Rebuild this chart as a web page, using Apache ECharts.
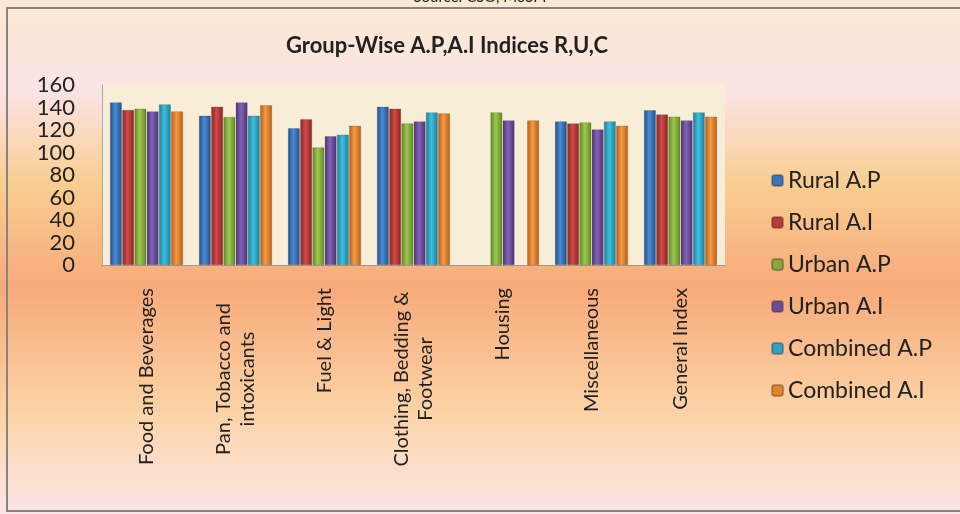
<!DOCTYPE html>
<html>
<head>
<meta charset="utf-8">
<script src="https://cdn.jsdelivr.net/npm/echarts@6/dist/echarts.min.js"></script>
<style>html,body{margin:0;padding:0;background:#fff;}#c{width:960px;height:514px;}</style>
</head>
<body>
<div id="c"></div>
<script>
var categories = ["Food and Beverages", "Pan, Tobacco and\nintoxicants", "Fuel & Light", "Clothing, Bedding &\nFootwear", "Housing", "Miscellaneous", "General Index"];
var ruralAP    = [144.6, 132.7, 121.5, 140.7, null, 127.7, 137.5];
var ruralAI    = [137.8, 140.7, 129.5, 139.0, null, 125.9, 133.9];
var urbanAP    = [139.0, 131.6, 104.6, 125.9, 135.7, 126.8, 131.9];
var urbanAI    = [136.6, 144.6, 114.4, 127.7, 128.6, 120.6, 128.6];
var combinedAP = [142.8, 132.7, 115.8, 135.7, null, 127.7, 135.7];
var combinedAI = [136.6, 142.0, 123.8, 134.8, 128.6, 123.8, 131.9];
var yTicks = [0, 20, 40, 60, 80, 100, 120, 140, 160];

var FONT = 'Lato, "Open Sans", sans-serif';
var seriesDefs = [
  {name: 'Rural A.P', data: ruralAP, c: ['#1f4f8a', '#4a8ad6', '#1f4f8a'], legend: '#3a72bd'},
  {name: 'Rural A.I', data: ruralAI, c: ['#8c2424', '#d04a4a', '#8c2424'], legend: '#b83a3a'},
  {name: 'Urban A.P', data: urbanAP, c: ['#5f8a24', '#9dc84e', '#5f8a24'], legend: '#86ab3c'},
  {name: 'Urban A.I', data: urbanAI, c: ['#4a3276', '#8462b8', '#4a3276'], legend: '#6b4c9a'},
  {name: 'Combined A.P', data: combinedAP, c: ['#1a7f9c', '#3cc0e0', '#1a7f9c'], legend: '#2aa5c4'},
  {name: 'Combined A.I', data: combinedAI, c: ['#b85e14', '#f59a42', '#b85e14'], legend: '#e8832a'}
];

function grad(c) {
  return new echarts.graphic.LinearGradient(0, 0, 1, 0, [
    {offset: 0, color: c[0]}, {offset: 0.45, color: c[1]}, {offset: 1, color: c[2]}
  ]);
}

var chart = echarts.init(document.getElementById('c'));
chart.setOption({
  backgroundColor: new echarts.graphic.LinearGradient(0, 0, 0, 1, [
    {offset: 0, color: '#fbe9d2'},
    {offset: 0.18, color: '#fbe3e4'},
    {offset: 0.36, color: '#f9cd90'},
    {offset: 0.56, color: '#f8aa7a'},
    {offset: 0.8, color: '#fcd3a6'},
    {offset: 1, color: '#fbe6e6'}
  ]),
  animation: false,
  title: {
    text: 'Group-Wise A.P,A.I Indices R,U,C',
    left: 442, top: 30, textAlign: 'center',
    textStyle: {fontFamily: FONT, fontSize: 22, fontWeight: 'bold', color: '#222'}
  },
  graphic: [
    {type: 'rect', shape: {x: 7, y: 8, width: 960, height: 503}, style: {fill: 'none', stroke: '#8a8380', lineWidth: 2}, z: 100},
    {type: 'text', left: 'center', top: -10, style: {text: 'Source: CSO, MoSPI', font: '15px ' + FONT, fill: '#222'}}
  ],
  legend: {
    orient: 'vertical', left: 766, top: 163,
    itemWidth: 11, itemHeight: 11, itemGap: 17,
    textStyle: {fontFamily: FONT, fontSize: 23, color: '#222', lineHeight: 25},
    data: seriesDefs.map(function (s) { return {name: s.name, itemStyle: {color: s.legend}}; })
  },
  grid: {left: 102, right: 235, top: 85, bottom: 249, show: true, backgroundColor: '#f8eed8', borderColor: 'transparent'},
  xAxis: {
    type: 'category', data: categories,
    axisLine: {lineStyle: {color: '#a09890'}},
    axisTick: {show: false},
    axisLabel: {
      rotate: 90, margin: 23, interval: 0, color: '#222', fontFamily: FONT, fontSize: 20, lineHeight: 24,
      formatter: function (v) {
        if (v.indexOf('\n') < 0) return v;
        return v.split('\n').map(function (l) { return '{c|' + l + '}'; }).join('\n');
      },
      rich: {c: {width: 182, align: 'center', fontFamily: FONT, fontSize: 20, lineHeight: 24, color: '#222'}}
    }
  },
  yAxis: {
    type: 'value', min: yTicks[0], max: yTicks[yTicks.length - 1], interval: 20,
    axisLine: {show: true, lineStyle: {color: '#b0a8a0'}},
    axisTick: {show: false},
    splitLine: {show: false},
    axisLabel: {margin: 27, color: '#222', fontFamily: FONT, fontSize: 22, lineHeight: 22}
  },
  series: seriesDefs.map(function (s) {
    return {
      name: s.name, type: 'bar', data: s.data,
      barGap: '4%', barCategoryGap: '18%',
      itemStyle: {color: grad(s.c), borderColor: 'rgba(60,40,30,0.35)', borderWidth: 0.6}
    };
  })
});
</script>
</body>
</html>
